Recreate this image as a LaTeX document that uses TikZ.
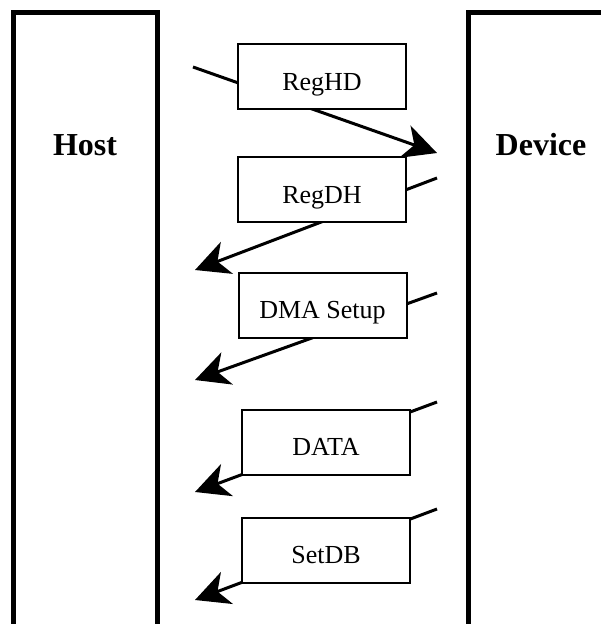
\documentclass[tikz,border=0pt]{standalone}
\usepackage{fontspec}
\setmainfont{Liberation Serif}
\usetikzlibrary{arrows.meta,positioning,backgrounds}

\begin{document}
\begin{tikzpicture}[
        x=1pt, y=-1pt,
        side/.style={rectangle, draw, line width=5pt, minimum width=144pt, minimum height=660pt},
        sidelabel/.style={font=\fontsize{32}{36}\selectfont\bfseries},
        msg/.style={rectangle, draw, fill=white, line width=2pt, minimum width=168pt, minimum height=65pt, inner sep=0pt, text height=27pt, text depth=0pt, font=\fontsize{26}{30}\selectfont},
        arrow/.style={-{Stealth[length=34pt, width=34pt, inset=10pt]}, line width=3pt}
    ]
        \useasboundingbox (0,0) rectangle (601,624);
        \begin{scope}
            \clip (0,0) rectangle (601,624);
            \node[side] (host) at (85.25,342.5) {};
            \node[side] (device) at (540.5,342.5) {};
        \end{scope}
        \node[sidelabel] (hostlabel) at (85,145) {Host};
        \node[sidelabel] (devicelabel) at (541,145) {Device};
        \node[msg] (reghd) at (322,76.5) {RegHD};
        \node[msg] (regdh) at (322,189.5) {RegDH};
        \node[msg] (dma) at (322.5,305) {DMA Setup};
        \node[msg] (data) at (326,442) {DATA};
        \node[msg] (setdb) at (326,550) {SetDB};
        \coordinate (s1) at (193,67);  \coordinate (t1) at (437,153);
        \coordinate (s2) at (437,178); \coordinate (t2) at (195,270);
        \coordinate (s3) at (437,293); \coordinate (t3) at (195,380);
        \coordinate (s4) at (437,402); \coordinate (t4) at (195,492);
        \coordinate (s5) at (437,509); \coordinate (t5) at (195,600);
        \begin{scope}[on background layer]
            \draw[arrow] (s1) -- (t1);
            \draw[arrow] (s2) -- (t2);
            \draw[arrow] (s3) -- (t3);
            \draw[arrow] (s4) -- (t4);
            \draw[arrow] (s5) -- (t5);
        \end{scope}
    \end{tikzpicture}
\end{document}
